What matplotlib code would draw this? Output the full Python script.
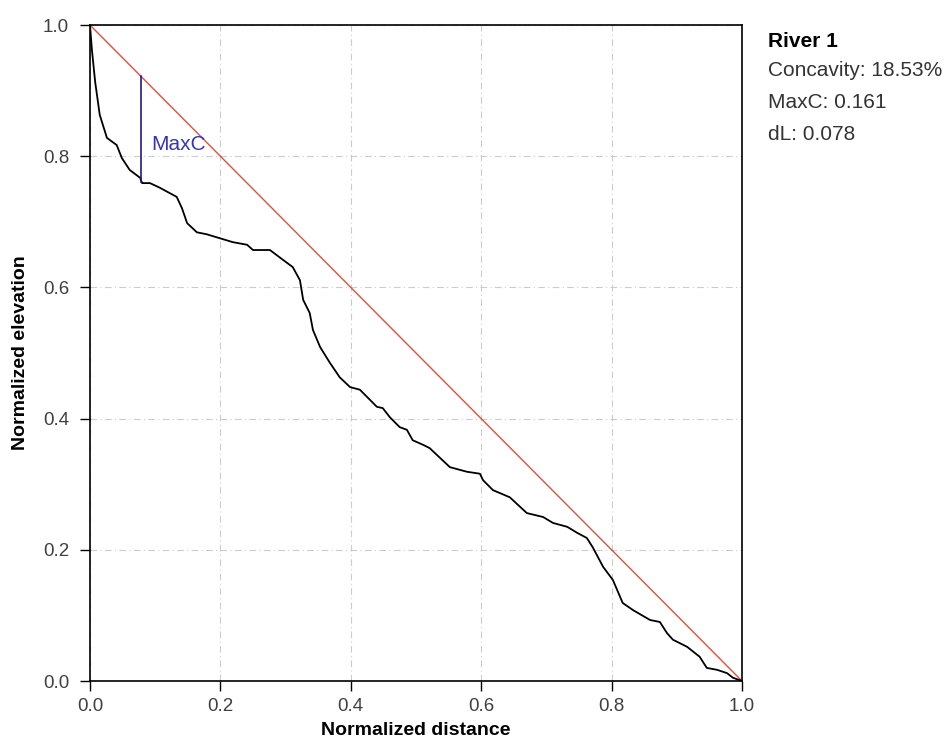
import numpy as np
import matplotlib
matplotlib.use("Agg")
import matplotlib.pyplot as plt

# normalized longitudinal profile
dist = [0.0, 0.003, 0.008, 0.015, 0.026, 0.041, 0.049, 0.061, 0.077, 0.080, 0.092,
        0.107, 0.133, 0.141, 0.149, 0.164, 0.179, 0.199, 0.219, 0.241, 0.250,
        0.276, 0.296, 0.311, 0.322, 0.327, 0.337, 0.342, 0.353, 0.368, 0.383,
        0.399, 0.414, 0.425, 0.440, 0.449, 0.460, 0.475, 0.486, 0.495, 0.511,
        0.521, 0.537, 0.552, 0.578, 0.598, 0.603, 0.618, 0.644, 0.670, 0.695,
        0.710, 0.732, 0.747, 0.762, 0.771, 0.787, 0.802, 0.817, 0.833, 0.859,
        0.874, 0.885, 0.894, 0.916, 0.935, 0.946, 0.962, 0.977, 0.986, 1.0]
elev = [1.0, 0.962, 0.913, 0.863, 0.828, 0.817, 0.797, 0.779, 0.767, 0.759, 0.759,
        0.752, 0.738, 0.721, 0.698, 0.684, 0.681, 0.675, 0.669, 0.665, 0.657,
        0.657, 0.642, 0.631, 0.611, 0.581, 0.561, 0.535, 0.509, 0.485, 0.463,
        0.448, 0.444, 0.433, 0.418, 0.416, 0.402, 0.387, 0.383, 0.367, 0.360,
        0.355, 0.340, 0.326, 0.319, 0.316, 0.306, 0.291, 0.280, 0.256, 0.250,
        0.241, 0.235, 0.226, 0.218, 0.204, 0.174, 0.154, 0.119, 0.108, 0.093,
        0.090, 0.073, 0.063, 0.052, 0.037, 0.020, 0.017, 0.012, 0.005, 0.0]

river_name = "River 1"
concavity = 18.53
maxc = 0.161
dl = 0.078

ticks = [0.0, 0.2, 0.4, 0.6, 0.8, 1.0]
tick_labels = ["0.0", "0.2", "0.4", "0.6", "0.8", "1.0"]

plt.rcParams['font.family'] = ['Liberation Sans', 'DejaVu Sans']

fig = plt.figure(figsize=(9.53, 7.42), dpi=100)
ax = fig.add_axes([0.0944, 0.0822, 0.6842, 0.8841])

ax.grid(True, color="#cccccc", linestyle="-.", linewidth=0.8, dashes=(6, 3, 1, 3))
ax.set_axisbelow(True)

ax.plot([0, 1], [1, 0], color="#d9533f", linewidth=1.0)
ax.plot(dist, elev, color="black", linewidth=1.3)

# max concavity marker
top = 1 - dl
ax.plot([dl, dl], [top - maxc, top], color="#1c1c8a", linewidth=1.2)
ax.text(dl + 0.016, 0.8095, "MaxC", color="#3535b8", fontsize=15,
        va="baseline", ha="left")

ax.set_xlim(0, 1)
ax.set_ylim(0, 1)
ax.set_xticks(ticks)
ax.set_yticks(ticks)
ax.set_xticklabels(tick_labels, fontsize=13.5, color="#404040")
ax.set_yticklabels(tick_labels, fontsize=13.5, color="#404040")
ax.tick_params(direction="out", length=7, width=1, color="black")
ax.tick_params(axis="x", pad=5)
ax.tick_params(axis="y", pad=8)
for s in ax.spines.values():
    s.set_linewidth(1.2)

ax.set_xlabel("Normalized distance", fontsize=14, fontweight="bold", labelpad=5)
ax.set_ylabel("Normalized elevation", fontsize=14, fontweight="bold", labelpad=10)

fig.text(0.806, 0.9367, river_name, fontsize=15, fontweight="bold", va="baseline")
fig.text(0.806, 0.8976, f"Concavity: {concavity:.2f}%", fontsize=15, va="baseline", color="#333333")
fig.text(0.806, 0.8544, f"MaxC: {maxc:.3f}", fontsize=15, va="baseline", color="#333333")
fig.text(0.806, 0.8113, f"dL: {dl:.3f}", fontsize=15, va="baseline", color="#333333")

fig.savefig("out.png", dpi=100)
